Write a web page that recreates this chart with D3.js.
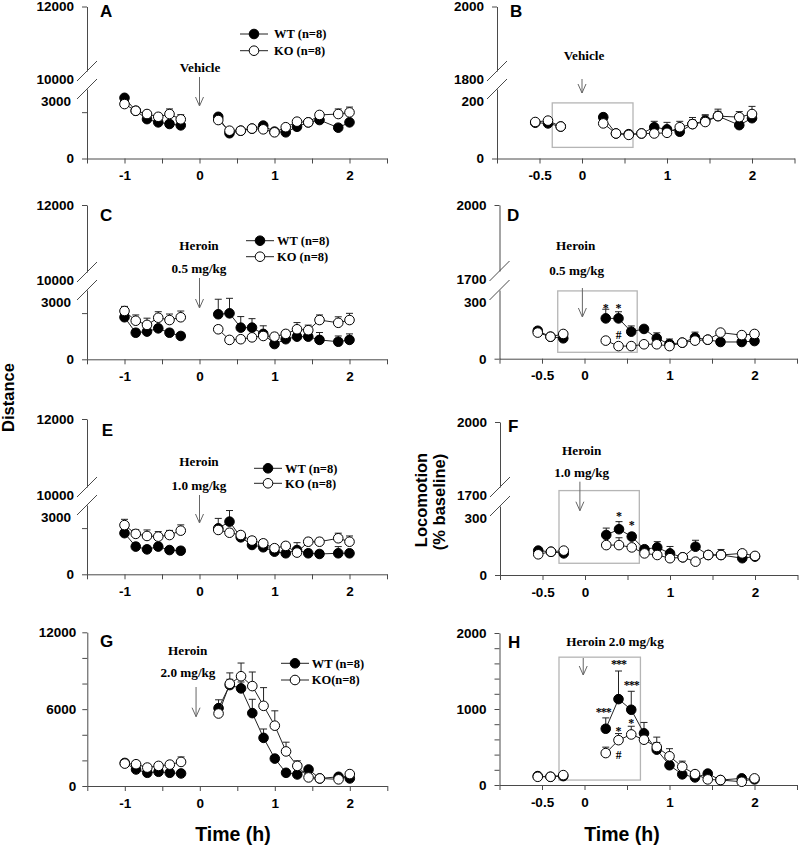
<!DOCTYPE html>
<html><head><meta charset="utf-8">
<script src="https://cdn.jsdelivr.net/npm/d3@7"></script>
<style>
body{margin:0;background:#fff;}
svg{display:block;}
</style></head><body>
<svg id="fig" width="800" height="847"></svg>
<script>
// ---------- time points (h) ----------
const timesLeft  = [-1,-0.85,-0.7,-0.55,-0.4,-0.25,0.25,0.4,0.55,0.7,0.85,1.0,1.15,1.3,1.45,1.6,1.85,2.0];
const timesRight = [-0.55,-0.4,-0.25,0.25,0.4,0.55,0.7,0.85,1.0,1.15,1.3,1.45,1.6,1.85,2.0];
const xLabelsLeft  = [-1,0,1,2];
const xLabelsRight = [-0.5,0,1,2];
const seriesNames = ["WT (n=8)","KO (n=8)"];
const seriesNamesG = ["WT (n=8)","KO(n=8)"];

// ---------- Panel A: Distance, vehicle ----------
const aWT    = [2620,2060,1700,1560,1490,1430,1800,1090,1200,1290,1420,1160,1130,1370,1560,1660,1330,1560];
const aWTErr = [100,90,90,90,90,90,120,80,80,90,100,80,80,90,90,100,100,110];
const aKO    = [2350,2060,1920,1800,1920,1690,1660,1200,1200,1290,1260,1130,1350,1590,1560,1880,1920,1990];
const aKOErr = [110,150,120,130,220,200,120,90,80,90,90,80,100,110,120,120,220,230];
// ---------- Panel B: % baseline, vehicle ----------
const bWT    = [103,101,92,119,72,70,72,90,84,77,99,109,122,96,116];
const bWTErr = [6,6,6,10,8,8,8,17,20,16,12,14,14,10,12];
const bKO    = [105,109,92,101,72,68,72,72,74,90,99,105,122,119,128];
const bKOErr = [6,6,6,8,6,6,6,8,10,17,19,21,20,16,22];
// ---------- Panel C: Distance, heroin 0.5 ----------
const cWT    = [1820,1150,1200,1340,1150,1010,1950,1990,1370,1370,1100,660,870,980,980,840,760,840];
const cWTErr = [150,150,150,150,150,150,650,650,480,390,350,150,150,150,150,320,250,260];
const cKO    = [2090,1670,1490,1800,1700,1820,1300,840,870,950,1010,980,1100,1300,1260,1700,1580,1700];
const cKOErr = [200,250,290,260,260,270,150,100,100,120,150,150,150,290,220,220,260,290];
// ---------- Panel D: % baseline, heroin 0.5 ----------
const dWT    = [122,96,89,176,176,118,130,89,64,70,92,83,73,73,77];
const dWTErr = [10,10,10,40,29,25,12,24,22,10,24,10,10,10,10];
const dKO    = [114,96,108,79,55,55,63,63,55,70,79,83,114,103,108];
const dKOErr = [10,10,10,10,8,8,8,10,10,10,10,10,10,10,10];
// ---------- Panel E: Distance, heroin 1.0 ----------
const eWT    = [1780,1200,1080,1200,1050,1020,1990,2280,1600,1270,1170,980,910,1050,910,880,910,910];
const eWTErr = [150,150,150,150,150,150,430,480,150,150,150,150,150,320,150,150,290,150];
const eKO    = [2130,1750,1660,1630,1700,1890,1920,1800,1700,1460,1340,1130,1230,940,1410,1410,1560,1410];
const eKOErr = [250,180,260,220,200,250,150,150,150,150,150,150,150,150,150,150,220,250];
// ---------- Panel F: % baseline, heroin 1.0 ----------
const fWT    = [106,101,94,174,199,167,112,120,94,77,123,87,87,73,80];
const fWTErr = [8,8,8,30,33,15,12,25,30,10,28,10,10,10,10];
const fKO    = [90,101,106,130,130,120,94,87,73,77,58,87,87,94,83];
const fKOErr = [8,8,8,10,32,10,10,10,10,10,10,10,24,10,10];
// ---------- Panel G: Distance, heroin 2.0 ----------
const gWT    = [1800,1290,1030,1110,1030,980,6080,7880,7620,5690,3760,2140,1030,900,1290,590,720,590];
const gWTErr = [200,200,200,200,200,200,650,450,500,1080,690,250,200,200,200,150,150,150];
const gKO    = [1750,1700,1440,1570,1670,1880,5660,7980,8570,7800,6260,4710,2700,1570,670,590,520,930];
const gKOErr = [250,250,250,250,250,390,250,850,1030,1100,1420,1160,720,400,200,150,150,150];
// ---------- Panel H: % baseline, heroin 2.0 ----------
const hWT    = [117,108,117,740,1130,990,680,465,260,140,100,150,65,87,74];
const hWTErr = [20,20,20,143,370,243,143,165,50,40,30,30,20,20,20];
const hKO    = [108,108,130,420,590,665,596,500,378,240,143,74,65,43,87];
const hKOErr = [20,20,20,78,87,108,60,60,100,74,40,30,20,20,20];

// ---------- significance marks (time, value, text) ----------
const dMarks = [[0.25,230,"*"],[0.4,230,"*"],[0.4,103,"#"]];
const fMarks = [[0.4,261,"*"],[0.55,226,"*"]];
const hMarks = [[0.22,978,"***"],[0.4,1608,"***"],[0.55,1339,"***"],[0.4,730,"*"],[0.55,838,"*"],[0.4,391,"#"]];

const SANS = '"Liberation Sans", Arial, Helvetica, sans-serif';
const SERIF = '"Liberation Serif", "Times New Roman", Times, serif';
const AXC = '#4a4a4a';

const panels = [
  {id:"A", col:0, ax:87, y0:158.5, broken:true, lo:3000, hi:[10000,12000], yLoTop:89, yHiBot:71, yTop:6.5, minor:[2000],
   wt:aWT, wtE:aWTErr, ko:aKO, koE:aKOErr, letter:[100,16.7],
   text:[["Vehicle",200,72]], arrow:[0,77,106], legend:{x:254,y1:34,y2:50.7,tx:274,names:seriesNames}},
  {id:"B", col:1, ax:497, y0:158.5, broken:true, lo:200, hi:[1800,2000], yLoTop:89, yHiBot:71, yTop:6.5, minor:[],
   wt:bWT, wtE:bWTErr, ko:bKO, koE:bKOErr, letter:[510,16.7],
   text:[["Vehicle",584,59.5]], arrow:[0,79,93], box:[[-0.35,0.6],[32,160]]},
  {id:"C", col:0, ax:87, y0:359.3, broken:true, lo:3000, hi:[10000,12000], yLoTop:290, yHiBot:272, yTop:205, minor:[2000],
   wt:cWT, wtE:cWTErr, ko:cKO, koE:cKOErr, letter:[100,220.7],
   text:[["Heroin",199,249.5],["0.5 mg/kg",199,272.8]], arrow:[0,278,308], legend:{x:260,y1:240.7,y2:256.7,tx:277,names:seriesNames}},
  {id:"D", col:1, ax:499.5, y0:358.7, broken:true, lo:300, hi:[1700,2000], yLoTop:290, yHiBot:271, yTop:205, minor:[],
   wt:dWT, wtE:dWTErr, ko:dKO, koE:dKOErr, letter:[507,220.7],
   text:[["Heroin",575.7,250],["0.5 mg/kg",576.7,274.5]], arrow:[-0.025,288,317], box:[[-0.315,0.62],[28,296]], marks:dMarks},
  {id:"E", col:0, ax:87, y0:574.3, broken:true, lo:3000, hi:[10000,12000], yLoTop:505, yHiBot:487, yTop:419, minor:[2000],
   wt:eWT, wtE:eWTErr, ko:eKO, koE:eKOErr, letter:[101.7,436],
   text:[["Heroin",199,466],["1.0 mg/kg",199,489.5]], arrow:[0,495,523], legend:{x:268,y1:468.3,y2:483.3,tx:285,names:seriesNames}},
  {id:"F", col:1, ax:500, y0:575, broken:true, lo:300, hi:[1700,2000], yLoTop:506, yHiBot:487, yTop:422, minor:[],
   wt:fWT, wtE:fWTErr, ko:fKO, koE:fKOErr, letter:[508,431.7],
   text:[["Heroin",581.7,455],["1.0 mg/kg",581.7,477]], arrow:[-0.06,481.7,510.7], box:[[-0.306,0.639],[51,367]], marks:fMarks},
  {id:"G", col:0, ax:87.3, y0:786, broken:false, max:12000, step:2000, labels:[0,6000,12000], yTop:632.3,
   wt:gWT, wtE:gWTErr, ko:gKO, koE:gKOErr, letter:[100,647.3],
   text:[["Heroin",187.7,654.5],["2.0 mg/kg",188,677]], arrow:[-0.05,687,716.7], legend:{x:295,y1:663.3,y2:680,tx:311.7,names:seriesNamesG}},
  {id:"H", col:1, ax:499.5, y0:785, broken:false, max:2000, step:200, labels:[0,1000,2000], yTop:633,
   wt:hWT, wtE:hWTErr, ko:hKO, koE:hKOErr, letter:[508,648.3],
   text:[["Heroin 2.0 mg/kg",615,646]], arrow:[-0.015,658,675], box:[[-0.3,0.658],[65,1682]], marks:hMarks}
];

const svg = d3.select('#fig');
svg.append('rect').attr('width',800).attr('height',847).attr('fill','#fff');

function styleAxis(g, fs){
  g.attr('font-family', null).attr('font-size', null);
  g.selectAll('.domain,.tick line').attr('stroke', AXC).attr('stroke-width',1);
  g.selectAll('.tick text').attr('font-family', SANS).attr('font-weight','bold')
    .attr('font-size', fs || 13.5).attr('fill','#000');
}

function drawPanel(p){
  const g = svg.append('g');
  const left = p.col === 0;
  const ax = p.ax;
  const times = left ? timesLeft : timesRight;
  const x = left ? d3.scaleLinear().domain([-1.5,2.5]).range([ax, ax+300])
                 : d3.scaleLinear().domain([-1,2.5]).range([ax, ax+297.5]);
  let y;
  const pad = (p.id === 'G') ? 6 : 8;
  if (p.broken){
    y = d3.scaleLinear().domain([0,p.lo]).range([p.y0,p.yLoTop]);
    const yHi = d3.scaleLinear().domain(p.hi).range([p.yHiBot,p.yTop]);
    const gl = g.append('g').attr('transform',`translate(${ax},0)`)
      .call(d3.axisLeft(y).tickValues([0].concat(p.minor)).tickFormat(d => d===0 ? '0' : '')
        .tickSize(5).tickSizeOuter(0).tickPadding(pad));
    styleAxis(gl);
    const gu = g.append('g').attr('transform',`translate(${ax},0)`)
      .call(d3.axisLeft(yHi).tickValues([p.hi[1]]).tickFormat(d => String(d))
        .tickSize(5).tickSizeOuter(0).tickPadding(pad));
    styleAxis(gu);
    // break slashes
    [y(p.lo), yHi(p.hi[0])].forEach(yb => {
      g.append('line').attr('x1',ax-10).attr('y1',yb+10).attr('x2',ax+10).attr('y2',yb-10)
        .attr('stroke',AXC).attr('stroke-width',1);
    });
    // break labels (placed at lower ends of the slashes)
    const lx = left ? ax-16 : ax-13;
    g.append('text').attr('x',lx).attr('y',y(p.lo)+12.5).attr('dy','0.35em').attr('text-anchor','end')
      .attr('font-family',SANS).attr('font-weight','bold').attr('font-size',13.5).attr('fill','#000').text(String(p.lo));
    g.append('text').attr('x',ax-13).attr('y',yHi(p.hi[0])+8).attr('dy','0.35em').attr('text-anchor','end')
      .attr('font-family',SANS).attr('font-weight','bold').attr('font-size',13.5).attr('fill','#000').text(String(p.hi[0]));
  } else {
    y = d3.scaleLinear().domain([0,p.max]).range([p.y0,p.yTop]);
    const ga = g.append('g').attr('transform',`translate(${ax},0)`)
      .call(d3.axisLeft(y).tickValues(d3.range(0,p.max+1,p.step))
        .tickFormat(d => p.labels.includes(d) ? String(d) : '')
        .tickSize(5).tickSizeOuter(0).tickPadding(pad));
    styleAxis(ga);
  }
  // x axis
  const xt = left ? d3.range(-1.5,2.51,0.5) : d3.range(-1,2.51,0.5);
  const xl = left ? xLabelsLeft : xLabelsRight;
  const gx = g.append('g').attr('transform',`translate(0,${p.y0})`)
    .call(d3.axisBottom(x).tickValues(xt).tickFormat(d => xl.includes(d) ? String(d) : '')
      .tickSize(5).tickSizeOuter(0).tickPadding(7));
  styleAxis(gx);

  // grey box
  if (p.box){
    const [tb, vb] = p.box;
    g.append('rect').attr('x',x(tb[0])).attr('y',y(vb[1]))
      .attr('width',x(tb[1])-x(tb[0])).attr('height',y(vb[0])-y(vb[1]))
      .attr('fill','none').attr('stroke','#b5b5b5').attr('stroke-width',1.3);
  }
  // arrow
  const [at, ay1, ay2] = p.arrow;
  const axp = x(at);
  g.append('line').attr('x1',axp).attr('x2',axp).attr('y1',ay1).attr('y2',ay2)
    .attr('stroke','#666').attr('stroke-width',1);
  g.append('path').attr('d',`M${axp-4},${ay2-9}L${axp},${ay2}L${axp+4},${ay2-9}`)
    .attr('fill','none').attr('stroke','#666').attr('stroke-width',1);
  // annotation texts
  p.text.forEach(([s,tx,ty]) => {
    g.append('text').attr('x',tx).attr('y',ty).attr('text-anchor','middle').attr('fill','#000')
      .attr('font-family',SERIF).attr('font-weight','bold').attr('font-size',13.2).text(s);
  });
  // panel letter
  g.append('text').attr('x',p.letter[0]).attr('y',p.letter[1]).attr('fill','#000')
    .attr('font-family',SANS).attr('font-weight','bold').attr('font-size',17).text(p.id);

  // series
  const series = [
    {v:p.wt, e:p.wtE, fill:'#000'},
    {v:p.ko, e:p.koE, fill:'#fff'}
  ];
  const line = d3.line().x(d => x(d.t)).y(d => y(d.v));
  series.forEach(s => {
    const pts = times.map((t,i) => ({t, v:s.v[i], e:s.e[i]}));
    const sg = g.append('g');
    // error bars (upper only)
    pts.forEach(d => {
      const cx = x(d.t), y1 = y(d.v), y2 = y(d.v + d.e);
      sg.append('line').attr('x1',cx).attr('x2',cx).attr('y1',y1).attr('y2',y2)
        .attr('stroke','#222').attr('stroke-width',1);
      sg.append('line').attr('x1',cx-3.5).attr('x2',cx+3.5).attr('y1',y2).attr('y2',y2)
        .attr('stroke','#222').attr('stroke-width',1);
    });
    [pts.filter(d => d.t < 0), pts.filter(d => d.t > 0)].forEach(seg => {
      sg.append('path').attr('d', line(seg)).attr('fill','none')
        .attr('stroke','#222').attr('stroke-width',1);
    });
    sg.selectAll('circle').data(pts).join('circle')
      .attr('cx', d => x(d.t)).attr('cy', d => y(d.v)).attr('r',4.8)
      .attr('fill', s.fill).attr('stroke','#000').attr('stroke-width',1);
  });

  // significance marks
  if (p.marks){
    p.marks.forEach(([t,v,s]) => {
      const isHash = s === '#';
      g.append('text').attr('x',x(t)).attr('y',y(v) + (isHash ? 4 : 5.5))
        .attr('text-anchor','middle').attr('font-family',SERIF).attr('font-weight','bold').attr('fill','#000')
        .attr('font-size', isHash ? 11.5 : 12).attr('letter-spacing', s.length>1 ? -1 : 0).text(s);
    });
  }

  // legend
  if (p.legend){
    const L = p.legend;
    [[L.y1,'#000',L.names[0]],[L.y2,'#fff',L.names[1]]].forEach(([ly,fill,name]) => {
      g.append('line').attr('x1',L.x-14).attr('x2',L.x+14).attr('y1',ly).attr('y2',ly)
        .attr('stroke','#222').attr('stroke-width',1);
      g.append('circle').attr('cx',L.x).attr('cy',ly).attr('r',4.8)
        .attr('fill',fill).attr('stroke','#000').attr('stroke-width',1);
      g.append('text').attr('x',L.tx).attr('y',ly).attr('dy','0.35em').attr('fill','#000')
        .attr('font-family',SERIF).attr('font-weight','bold').attr('font-size',12.5).text(name);
    });
  }
}

panels.forEach(drawPanel);

// axis titles
svg.append('text').attr('transform','translate(14,397.5) rotate(-90)').attr('text-anchor','middle').attr('fill','#000')
  .attr('font-family',SANS).attr('font-weight','bold').attr('font-size',16.5).text('Distance');
svg.append('text').attr('transform','translate(427,500) rotate(-90)').attr('text-anchor','middle').attr('fill','#000')
  .attr('font-family',SANS).attr('font-weight','bold').attr('font-size',16.5).text('Locomotion');
svg.append('text').attr('transform','translate(445,502) rotate(-90)').attr('text-anchor','middle').attr('fill','#000')
  .attr('font-family',SANS).attr('font-weight','bold').attr('font-size',16.5).text('(% baseline)');
svg.append('text').attr('x',233).attr('y',841).attr('text-anchor','middle').attr('fill','#000')
  .attr('font-family',SANS).attr('font-weight','bold').attr('font-size',19.5).text('Time (h)');
svg.append('text').attr('x',622).attr('y',841).attr('text-anchor','middle').attr('fill','#000')
  .attr('font-family',SANS).attr('font-weight','bold').attr('font-size',19.5).text('Time (h)');
</script>
</body></html>
